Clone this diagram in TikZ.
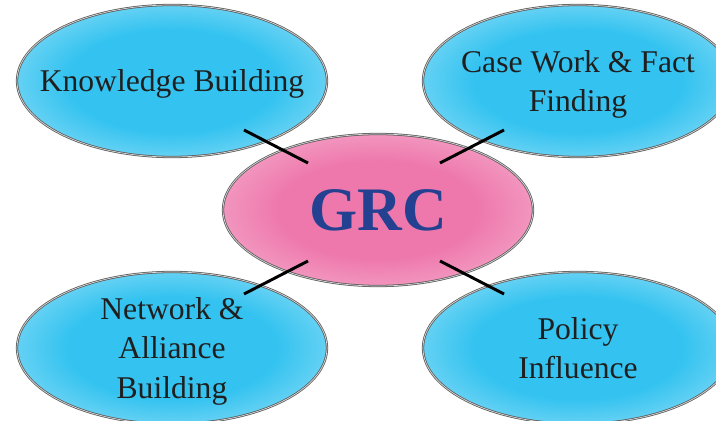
\documentclass[tikz,border=0pt]{standalone}
\usepackage{fontspec}
\setmainfont{Liberation Serif}
\usetikzlibrary{shapes,calc}

\definecolor{cyandeep}{RGB}{52,195,240}
\definecolor{cyanlite}{RGB}{160,226,248}
\definecolor{pinkdeep}{RGB}{238,120,172}
\definecolor{pinklite}{RGB}{246,182,210}
\definecolor{grcblue}{RGB}{36,64,144}
\pgfdeclareradialshading{cyanball}{\pgfpoint{0bp}{0bp}}{color(0bp)=(cyandeep); color(17bp)=(cyandeep); color(35bp)=(cyanlite); color(50bp)=(cyanlite)}
\pgfdeclareradialshading{pinkball}{\pgfpoint{0bp}{0bp}}{color(0bp)=(pinkdeep); color(16bp)=(pinkdeep); color(35bp)=(pinklite); color(50bp)=(pinklite)}

\tikzset{
  bubble/.style={ellipse, draw=gray!70!black, double=gray!30, double distance=0.5pt, line width=0.55pt,
    minimum width=7.75cm, minimum height=3.8cm, inner xsep=-0.8cm, inner ysep=-0.45cm, align=center},
  topic/.style={bubble, shading=cyanball, text=black!88, text depth=0pt, font=\fontsize{22.5}{28}\selectfont},
  hub/.style={bubble, shading=pinkball, text=grcblue, text depth=0pt, font=\fontsize{44}{50}\selectfont\bfseries},
  link/.style={line width=2.1pt, black}
}

\begin{document}
\begin{tikzpicture}
\useasboundingbox (0,0) rectangle (17.9,10.5);

\node[topic] (kb) at (4.3, 8.475) {Knowledge Building};
\node[topic] (cw) at (14.45, 8.475) {Case Work \& Fact\\Finding};
\node[topic] (nab) at (4.3, 1.8) {Network \&\\Alliance\\Building};
\node[topic] (pi) at (14.45, 1.8) {Policy\\Influence};
\node[hub] (grc) at (9.45, 5.25) {GRC};

\draw[link] ($(grc)+(-1.75,1.175)$) -- ($(kb)+(1.8,-1.225)$);
\draw[link] ($(grc)+(1.55,1.175)$) -- ($(cw)+(-1.85,-1.225)$);
\draw[link] ($(grc)+(-1.75,-1.275)$) -- ($(nab)+(1.8,1.35)$);
\draw[link] ($(grc)+(1.55,-1.275)$) -- ($(pi)+(-1.85,1.35)$);
\end{tikzpicture}
\end{document}
